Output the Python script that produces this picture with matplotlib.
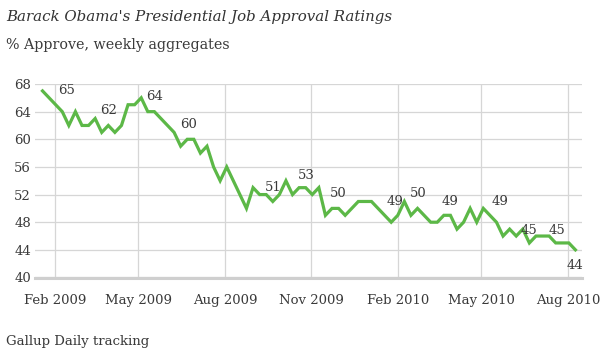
import matplotlib
matplotlib.use("Agg")
import matplotlib.pyplot as plt
import matplotlib.dates as mdates
import numpy as np
import datetime as dt

# ---- data ----
start_date = dt.date(2009, 1, 19)
approval = [67, 66, 65, 64, 62, 64, 62, 62, 63, 61, 62, 61, 62, 65, 65, 66,
            64, 64, 63, 62, 61, 59, 60, 60, 58, 59, 56, 54, 56, 54, 52, 50,
            53, 52, 52, 51, 52, 54, 52, 53, 53, 52, 53, 49, 50, 50, 49, 50,
            51, 51, 51, 50, 49, 48, 49, 51, 49, 50, 49, 48, 48, 49, 49, 47,
            48, 50, 48, 50, 49, 48, 46, 47, 46, 47, 45, 46, 46, 46, 45, 45,
            45, 44]
dates = [start_date + dt.timedelta(days=7 * i) for i in range(len(approval))]

tick_dates = [dt.date(2009, 2, 1), dt.date(2009, 5, 1), dt.date(2009, 8, 1),
              dt.date(2009, 11, 1), dt.date(2010, 2, 1), dt.date(2010, 5, 1),
              dt.date(2010, 8, 1)]
tick_labels = ["Feb 2009", "May 2009", "Aug 2009", "Nov 2009", "Feb 2010",
               "May 2010", "Aug 2010"]
y_ticks = [40, 44, 48, 52, 56, 60, 64, 68]

# callout labels: (days after start, value position, text)
callout_days = [26, 70, 119, 155, 246, 281, 315, 375, 400, 434, 487, 518, 547, 566]
callout_vals = [67.1, 64.2, 66.2, 62.2, 53.0, 54.8, 52.2, 51.0, 52.2, 51.0, 51.0, 46.8, 46.8, 41.7]
callout_text = ["65", "62", "64", "60", "51", "53", "50", "49", "50", "49", "49", "45", "45", "44"]

title = "Barack Obama's Presidential Job Approval Ratings"
subtitle = "% Approve, weekly aggregates"
footer = "Gallup Daily tracking"

# ---- figure ----
W, H = 609, 355
fig = plt.figure(figsize=(W / 100, H / 100), dpi=100)
fig.patch.set_facecolor("white")
serif = ["DejaVu Serif"]
txt_col = "#3a3a3a"

ax = fig.add_axes([35 / W, 1 - 277.5 / H, (582 - 35) / W, (277.5 - 84) / H])
ax.set_ylim(40, 68)
ax.set_xlim(mdates.date2num(start_date - dt.timedelta(days=8)),
            mdates.date2num(start_date + dt.timedelta(days=574)))

ax.plot(mdates.date2num(dates), approval, color="#5cb847", lw=2.3,
        solid_joinstyle="miter", zorder=3, clip_on=False)

ax.set_yticks(y_ticks)
ax.set_yticklabels([str(v) for v in y_ticks], family=serif, fontsize=9.5, color=txt_col)
ax.set_xticks(mdates.date2num(tick_dates))
ax.set_xticklabels(tick_labels, family=serif, fontsize=9.5, color=txt_col)
ax.tick_params(axis="both", length=0)
ax.tick_params(axis="y", pad=3)
ax.tick_params(axis="x", pad=12)
ax.grid(True, color="#d6d6d6", lw=0.9)
ax.set_axisbelow(True)
for s in ["top", "right", "left"]:
    ax.spines[s].set_visible(False)
ax.spines["bottom"].set_color("#cfcfcf")
ax.spines["bottom"].set_linewidth(2.2)

for d, v, t in zip(callout_days, callout_vals, callout_text):
    ax.text(mdates.date2num(start_date + dt.timedelta(days=d)), v, t,
            family=serif, fontsize=9.5, color=txt_col, ha="center", va="center", zorder=4)

fig.text(6 / W, 1 - 17 / H, title, family=serif, style="italic", fontsize=10.8,
         color="#333333", ha="left", va="center")
fig.text(6 / W, 1 - 45 / H, subtitle, family=serif, fontsize=10.3, color=txt_col,
         ha="left", va="center")
fig.text(6 / W, 1 - 341 / H, footer, family=serif, fontsize=9.5, color=txt_col,
         ha="left", va="center")

fig.savefig("out.png", dpi=100, facecolor="white")
